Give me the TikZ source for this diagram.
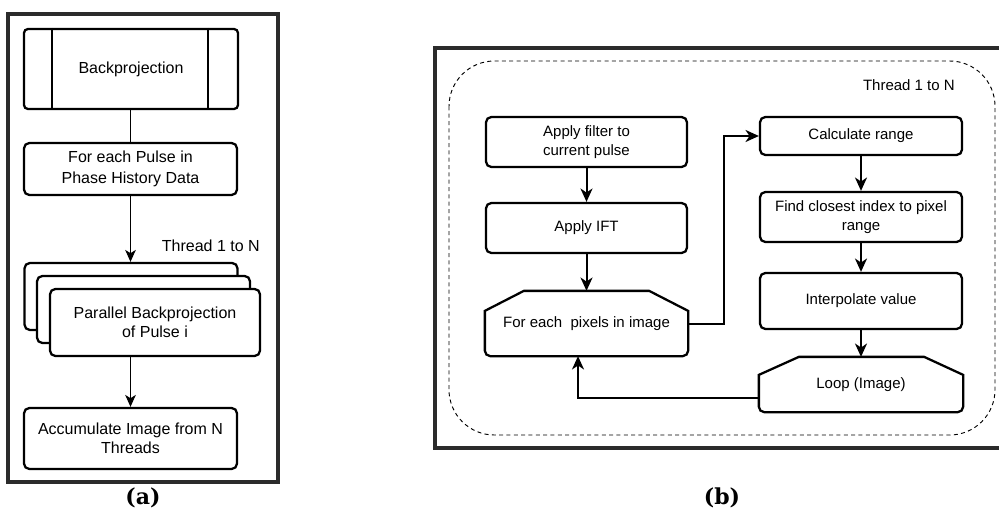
\documentclass[tikz,border=0pt]{standalone}
\usepackage{fontspec}
\setmainfont{Liberation Sans}
\newfontfamily\labfont{DejaVu Serif}
\usetikzlibrary{arrows.meta,calc}
\definecolor{framec}{HTML}{2B2B2B}
\begin{document}
\begin{tikzpicture}[x=0.75pt,y=-0.75pt,
  box/.style={draw, line width=1.7pt, rounded corners=4pt, align=center, inner sep=0pt},
  boxa/.style={box, font=\fontsize{12}{14.5}\selectfont},
  boxb/.style={box, font=\fontsize{11.25}{14.25}\selectfont},
  hexb/.style={boxb, draw=none},
  hexline/.style={line width=1.7pt},
  conn/.style={line width=0.9pt},
  connb/.style={line width=1.5pt},
  arr/.style={conn, -{Stealth[length=9pt,width=8pt,inset=2.5pt]}},
  arrb/.style={connb, -{Stealth[length=10pt,width=9pt,inset=3pt]}},
  framebox/.style={draw=framec, line width=2.8pt},
  thr/.style={inner sep=0pt},
  lab/.style={font=\labfont\bfseries\fontsize{16.5}{19}\selectfont, inner sep=0pt}
]
\useasboundingbox (0,0) rectangle (999,510);

% ---------------- panel (a) ----------------
\draw[framebox] (8,14) rectangle (278,482);

\node[boxa, rounded corners=3pt, minimum width=160.5pt, minimum height=60pt] (bp) at (131,69) {Backprojection};
\draw[line width=1.7pt] ($(bp.north west)+(29,0)$) -- ($(bp.south west)+(29,0)$);
\draw[line width=1.7pt] ($(bp.north east)+(-31,0)$) -- ($(bp.south east)+(-31,0)$);

\node[boxa, minimum width=159.75pt, minimum height=39pt] (fe) at (130.5,169) {For each Pulse in\\[1.5pt]Phase History Data};

\node[boxa, fill=white, minimum width=159.75pt, minimum height=50.25pt] (pb1) at (131,296.5) {};
\node[boxa, fill=white, minimum width=159.75pt, minimum height=50.25pt] (pb2) at (143.5,309.5) {};
\node[boxa, fill=white, minimum width=157.5pt, minimum height=50.25pt] (pb3) at (155,322.5) {Parallel Backprojection\\of Pulse i};

\node[boxa, minimum width=159.75pt, minimum height=45.75pt] (acc) at (130.5,438.5) {Accumulate Image from N\\Threads};

\node[thr, anchor=east, font=\fontsize{12}{14}\selectfont] (thra) at (260,246) {Thread 1 to N};

\draw[conn] (bp.south -| fe.north) -- (fe.north);
\draw[arr] (fe.south) -- (fe.south |- pb1.north);
\draw[arr] (acc.north |- pb3.south) -- (acc.north);

\node[lab] (la) at (143,498) {(a)};

% ---------------- panel (b) ----------------
\draw[framebox] (435,48) rectangle (1004,448);
\draw[dashed, line width=0.7pt, dash pattern=on 3pt off 2.5pt, rounded corners=34pt] (449,61) rectangle (995,435);

\node[thr, anchor=east, font=\fontsize{11.25}{14}\selectfont] (thrb) at (955,85) {Thread 1 to N};

\node[boxb, minimum width=150.75pt, minimum height=37.5pt] (af) at (586.5,142) {Apply filter to\\current pulse};
\node[boxb, minimum width=150.75pt, minimum height=37.5pt] (ift) at (586.5,228) {Apply IFT};
\node[hexb, minimum width=150.75pt, minimum height=47.25pt] (fp) at (586.5,323.5) {For each\ \ pixels in image};
\draw[hexline] ($(fp.north west)+(0,20)$) -- ($(fp.north west)+(39,0)$) -- ($(fp.north east)+(-39,0)$) -- ($(fp.north east)+(0,20)$) [rounded corners=4pt] -- (fp.south east) -- (fp.south west) [sharp corners] -- cycle;

\node[boxb, minimum width=151.5pt, minimum height=28.5pt] (cr) at (861,136) {Calculate range};
\node[boxb, minimum width=151.5pt, minimum height=37.5pt] (fc) at (861,217) {Find closest index to pixel\\range};
\node[boxb, minimum width=151.5pt, minimum height=42pt] (iv) at (861,301) {Interpolate value};
\node[hexb, minimum width=151.5pt, minimum height=39.75pt] (lp) at (861,384.5) {Loop (Image)};
\draw[hexline] ($(lp.north west)+(0,18)$) -- ($(lp.north west)+(40,0)$) -- ($(lp.north east)+(-39,0)$) -- ($(lp.north east)+(0,18)$) [rounded corners=4pt] -- (lp.south east) -- (lp.south west) [sharp corners] -- cycle;

\draw[arrb] (af.south) -- (ift.north);
\draw[arrb] (ift.south) -- (fp.north);
\draw[arrb] (fp.east) -- ++(36,0) |- (cr.west);
\draw[arrb] (cr.south) -- (fc.north);
\draw[arrb] (fc.south) -- (iv.north);
\draw[arrb] (iv.south) -- (lp.north);
\draw[arrb] ($(lp.west)+(0,13.5)$) -| ($(fp.south)+(-8.5,0)$);

\node[lab] (lb) at (722,498) {(b)};
\end{tikzpicture}
\end{document}
